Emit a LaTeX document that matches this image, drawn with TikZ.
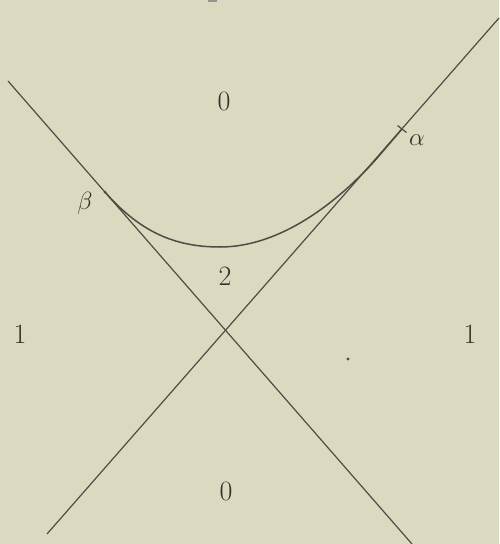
\documentclass[tikz,border=0pt]{standalone}
\definecolor{bg}{RGB}{220,217,193}
\definecolor{ink}{RGB}{78,77,68}
\definecolor{txt}{RGB}{50,50,40}
\begin{document}
\begin{tikzpicture}[x=1pt,y=-1pt,
  line/.style={draw=ink, line width=1.2pt},
  curveline/.style={draw=ink, line width=1.5pt},
  lab/.style={text=txt, font=\fontsize{28}{32}\selectfont, inner sep=0pt},
  glab/.style={text=txt, font=\fontsize{24.88}{30}\selectfont, inner sep=0pt}]
\fill[bg] (0,0) rectangle (499,544);
\useasboundingbox (0,0) rectangle (499,544);
% end points of the two straight lines
\coordinate (L1a) at (8,81);
\coordinate (L1b) at (412,544);
\coordinate (L2a) at (499,18);
\coordinate (L2b) at (47,534);
% points of the curve
\coordinate (B) at (105,192);
\coordinate (M) at (220,247);
\coordinate (T) at (375,160.5);
\coordinate (A) at (402,129);
\coordinate (ta) at (397.5,125.5);
\coordinate (tb) at (406.5,132.5);
\coordinate (D) at (348,359);
\draw[line] (L1a) -- (L1b);
\draw[line] (L2a) -- (L2b);
\draw[curveline] (B) .. controls (140,232) and (175,247) .. (M)
  .. controls (275,247) and (330,210) .. (T) -- (A);
\draw[line] (ta) -- (tb);
\fill[ink] (B) circle (1.5);
\fill[ink] (D) circle (1.6);
\fill[ink!60] (208,0) rectangle (217,1.5);
% labels
\node[lab] (z1) at (224,101) {0};
\node[lab] (z2) at (225,276) {2};
\node[lab] (z3) at (226,491) {0};
\node[lab] (o1) at (20,334) {1};
\node[lab] (o2) at (470,334) {1};
\node[glab] (al) at (417,140) {$\alpha$};
\node[glab] (be) at (85,203) {$\beta$};
\end{tikzpicture}
\end{document}
